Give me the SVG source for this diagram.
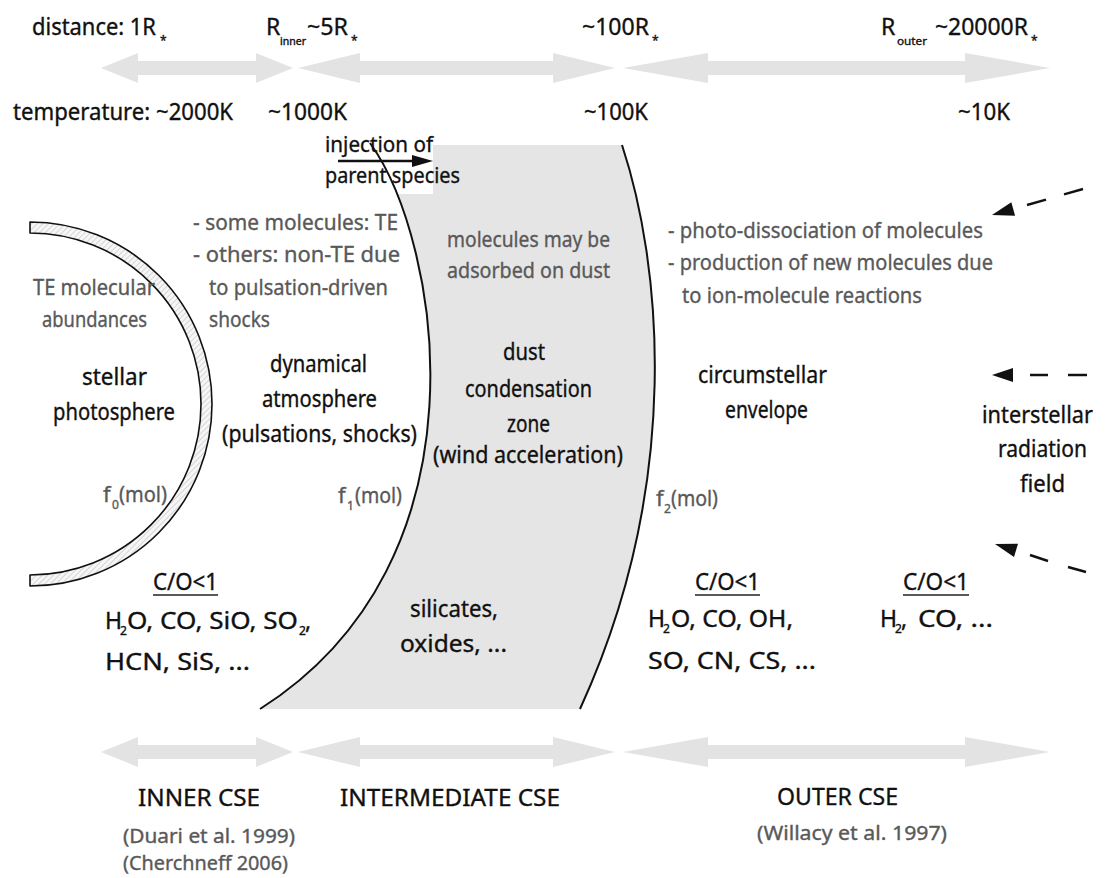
<svg xmlns="http://www.w3.org/2000/svg" width="1105" height="878" viewBox="0 0 1105 878">
<style>
text{font-family:"Noto Sans","DejaVu Sans",sans-serif;font-size:23px;fill:#111;stroke:#111;stroke-width:0.35}
.g{fill:#595959;stroke:#595959;font-size:22px}
.c{fill:#595959;stroke:#595959;font-size:19px}
.s{font-size:12px}
.scale{fill:#e3e3e3}
.edge{fill:none;stroke:#111;stroke-width:2}
.dash{stroke:#111;stroke-width:2.5;fill:none}
.ul{stroke:#222;stroke-width:1.5}
</style>
<defs>
<pattern id="hatch" width="4" height="4" patternUnits="userSpaceOnUse" patternTransform="rotate(45)">
<rect width="4" height="4" fill="#f6f6f6"/>
<line x1="0" y1="0" x2="0" y2="4" stroke="#c4c4c4" stroke-width="1.3"/>
</pattern>
</defs>
<rect width="1105" height="878" fill="#fff"/>

<g id="dust-zone">
<path d="M370 145 L622 145 C660 260 685 480 580 709 L260 709 C495 560 440 240 370 145 Z" fill="#e5e5e5"/>
<rect x="321" y="131" width="112" height="63" fill="#fff"/>
<path class="edge" d="M370 143 C440 240 495 560 260 709"/>
<path class="edge" d="M622 145 C660 260 685 480 580 709"/>
</g>

<g id="photosphere-shell">
<path d="M30 222 A182 182 0 0 1 30 586 L30 575 A171 171 0 0 0 30 233 Z" fill="url(#hatch)" stroke="#111" stroke-width="1.6" stroke-linejoin="round"/>
</g>

<g id="connectors">
<path class="scale" d="M101 68 L138 53 L138 61 L256 61 L256 53 L293 68 L256 83 L256 75 L138 75 L138 83 Z"/>
<path class="scale" d="M298 68 L360 53 L360 61 L553 61 L553 53 L615 68 L553 83 L553 75 L360 75 L360 83 Z"/>
<path class="scale" d="M623 68 L708 53 L708 61 L965 61 L965 53 L1050 68 L965 83 L965 75 L708 75 L708 83 Z"/>
<path class="scale" d="M101 752 L138 737 L138 745 L256 745 L256 737 L293 752 L256 767 L256 759 L138 759 L138 767 Z"/>
<path class="scale" d="M298 752 L360 737 L360 745 L553 745 L553 737 L615 752 L553 767 L553 759 L360 759 L360 767 Z"/>
<path class="scale" d="M623 752 L708 737 L708 745 L965 745 L965 737 L1050 752 L965 767 L965 759 L708 759 L708 767 Z"/>
<line x1="338" y1="161" x2="414" y2="161" stroke="#111" stroke-width="2.5"/>
<path d="M433 161 L412 155 L412 167 Z" fill="#111"/>
<path d="M992 215 L1011.3 202.3 L1015.1 215.7 Z" fill="#111"/>
<line class="dash" x1="1027" y1="205" x2="1046" y2="199.6"/>
<line class="dash" x1="1064" y1="194.4" x2="1083" y2="189"/>
<path d="M992 375 L1013 368 L1013 382 Z" fill="#111"/>
<line class="dash" x1="1030" y1="375" x2="1048" y2="375"/>
<line class="dash" x1="1068" y1="375" x2="1087" y2="375"/>
<path d="M995 544 L1018 543.7 L1014 557.1 Z" fill="#111"/>
<line class="dash" x1="1030" y1="555" x2="1048" y2="561"/>
<line class="dash" x1="1068" y1="567" x2="1086" y2="572"/>
</g>

<g id="distance-scale">
<text x="32" y="35" textLength="124" lengthAdjust="spacingAndGlyphs">distance: 1R</text>
<text class="s" x="160" y="45">*</text>
<text x="266" y="35">R</text>
<text x="280" y="45" style="font-size:10px" textLength="26" lengthAdjust="spacingAndGlyphs">inner</text>
<text x="307" y="35" textLength="41" lengthAdjust="spacingAndGlyphs">~5R</text>
<text class="s" x="351" y="45">*</text>
<text x="582" y="35" textLength="67" lengthAdjust="spacingAndGlyphs">~100R</text>
<text class="s" x="652" y="45">*</text>
<text x="881" y="35">R</text>
<text x="897" y="45" style="font-size:11px" textLength="30" lengthAdjust="spacingAndGlyphs">outer</text>
<text x="935" y="35" textLength="93" lengthAdjust="spacingAndGlyphs">~20000R</text>
<text class="s" x="1031" y="45">*</text>
</g>

<g id="temperature-scale">
<text x="13" y="120" textLength="220" lengthAdjust="spacingAndGlyphs">temperature: ~2000K</text>
<text x="268" y="120" textLength="79" lengthAdjust="spacingAndGlyphs">~1000K</text>
<text x="584" y="120" textLength="64" lengthAdjust="spacingAndGlyphs">~100K</text>
<text x="958" y="120" textLength="52" lengthAdjust="spacingAndGlyphs">~10K</text>
</g>

<g id="injection-label">
<text x="325" y="152" style="font-size:22px" textLength="108" lengthAdjust="spacingAndGlyphs">injection of</text>
<text x="325" y="183" style="font-size:22px" textLength="135" lengthAdjust="spacingAndGlyphs">parent species</text>
</g>

<g id="stellar-photosphere">
<text class="g" x="33" y="295" textLength="122" lengthAdjust="spacingAndGlyphs">TE molecular</text>
<text class="g" x="42" y="327" textLength="105" lengthAdjust="spacingAndGlyphs">abundances</text>
<text x="82" y="385" textLength="65" lengthAdjust="spacingAndGlyphs">stellar</text>
<text x="53" y="420" textLength="122" lengthAdjust="spacingAndGlyphs">photosphere</text>
<text class="g" x="103" y="502">f</text>
<text class="g s" x="112" y="509">0</text>
<text class="g" x="119" y="502" textLength="48" lengthAdjust="spacingAndGlyphs">(mol)</text>
</g>

<g id="dynamical-atmosphere">
<text class="g" x="193" y="230" textLength="205" lengthAdjust="spacingAndGlyphs">- some molecules: TE</text>
<text class="g" x="193" y="262" textLength="207" lengthAdjust="spacingAndGlyphs">- others: non-TE due</text>
<text class="g" x="209" y="295" textLength="179" lengthAdjust="spacingAndGlyphs">to pulsation-driven</text>
<text class="g" x="209" y="327" textLength="61" lengthAdjust="spacingAndGlyphs">shocks</text>
<text x="270" y="372" textLength="97" lengthAdjust="spacingAndGlyphs">dynamical</text>
<text x="262" y="407" textLength="115" lengthAdjust="spacingAndGlyphs">atmosphere</text>
<text x="222" y="442" textLength="195" lengthAdjust="spacingAndGlyphs">(pulsations, shocks)</text>
<text class="g" x="338" y="503">f</text>
<text class="g s" x="347" y="510">1</text>
<text class="g" x="355" y="503" textLength="47" lengthAdjust="spacingAndGlyphs">(mol)</text>
</g>

<g id="inner-chemistry">
<text x="153" y="590" textLength="65" lengthAdjust="spacingAndGlyphs">C/O&lt;1</text>
<line class="ul" x1="153" y1="595" x2="218" y2="595"/>
<text x="105" y="629">H</text>
<text class="s" x="120" y="635">2</text>
<text x="127" y="629" textLength="171" lengthAdjust="spacingAndGlyphs">O, CO, SiO, SO</text>
<text class="s" x="299" y="635">2</text>
<text x="305" y="629">,</text>
<text x="105" y="670" textLength="145" lengthAdjust="spacingAndGlyphs">HCN, SiS, ...</text>
</g>

<g id="dust-condensation-zone">
<text class="g" x="447" y="247" textLength="163" lengthAdjust="spacingAndGlyphs">molecules may be</text>
<text class="g" x="447" y="278" textLength="163" lengthAdjust="spacingAndGlyphs">adsorbed on dust</text>
<text x="503" y="360" textLength="42" lengthAdjust="spacingAndGlyphs">dust</text>
<text x="465" y="397" textLength="127" lengthAdjust="spacingAndGlyphs">condensation</text>
<text x="507" y="432" textLength="43" lengthAdjust="spacingAndGlyphs">zone</text>
<text x="433" y="463" textLength="190" lengthAdjust="spacingAndGlyphs">(wind acceleration)</text>
<text x="410" y="617" textLength="88" lengthAdjust="spacingAndGlyphs">silicates,</text>
<text x="400" y="652" textLength="107" lengthAdjust="spacingAndGlyphs">oxides, ...</text>
</g>

<g id="circumstellar-envelope">
<text class="g" x="668" y="238" textLength="315" lengthAdjust="spacingAndGlyphs">- photo-dissociation of molecules</text>
<text class="g" x="668" y="270" textLength="325" lengthAdjust="spacingAndGlyphs">- production of new molecules due</text>
<text class="g" x="682" y="303" textLength="240" lengthAdjust="spacingAndGlyphs">to ion-molecule reactions</text>
<text x="698" y="383" textLength="129" lengthAdjust="spacingAndGlyphs">circumstellar</text>
<text x="725" y="418" textLength="83" lengthAdjust="spacingAndGlyphs">envelope</text>
<text class="g" x="656" y="506">f</text>
<text class="g s" x="664" y="513">2</text>
<text class="g" x="671" y="506" textLength="47" lengthAdjust="spacingAndGlyphs">(mol)</text>
</g>

<g id="outer-chemistry">
<text x="695" y="590" textLength="65" lengthAdjust="spacingAndGlyphs">C/O&lt;1</text>
<line class="ul" x1="695" y1="595" x2="760" y2="595"/>
<text x="648" y="627">H</text>
<text class="s" x="663" y="633">2</text>
<text x="671" y="627" textLength="122" lengthAdjust="spacingAndGlyphs">O, CO, OH,</text>
<text x="648" y="669" textLength="168" lengthAdjust="spacingAndGlyphs">SO, CN, CS, ...</text>
</g>

<g id="ism-chemistry">
<text x="903" y="590" textLength="66" lengthAdjust="spacingAndGlyphs">C/O&lt;1</text>
<line class="ul" x1="903" y1="595" x2="969" y2="595"/>
<text x="880" y="627">H</text>
<text class="s" x="895" y="633">2</text>
<text x="901" y="627">,</text>
<text x="918" y="627" textLength="75" lengthAdjust="spacingAndGlyphs">CO, ...</text>
</g>

<g id="interstellar-radiation-field">
<text x="982" y="423" textLength="111" lengthAdjust="spacingAndGlyphs">interstellar</text>
<text x="998" y="457" textLength="89" lengthAdjust="spacingAndGlyphs">radiation</text>
<text x="1020" y="492" textLength="45" lengthAdjust="spacingAndGlyphs">field</text>
</g>

<g id="inner-cse">
<text x="138" y="806" textLength="122" lengthAdjust="spacingAndGlyphs">INNER CSE</text>
<text class="c" x="123" y="843" textLength="172" lengthAdjust="spacingAndGlyphs">(Duari et al. 1999)</text>
<text class="c" x="123" y="870" textLength="165" lengthAdjust="spacingAndGlyphs">(Cherchneff 2006)</text>
</g>

<g id="intermediate-cse">
<text x="340" y="806" textLength="220" lengthAdjust="spacingAndGlyphs">INTERMEDIATE CSE</text>
</g>

<g id="outer-cse">
<text x="777" y="805" textLength="121" lengthAdjust="spacingAndGlyphs">OUTER CSE</text>
<text class="c" x="757" y="840" textLength="190" lengthAdjust="spacingAndGlyphs">(Willacy et al. 1997)</text>
</g>
</svg>
